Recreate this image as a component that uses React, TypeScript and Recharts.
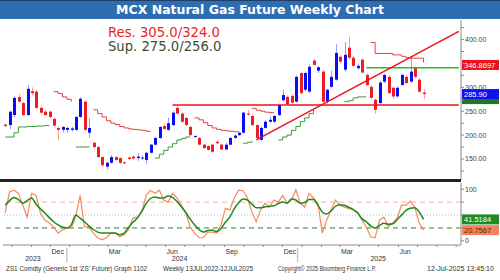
import { ComposedChart, Bar, Line, XAxis, YAxis, ReferenceLine } from "recharts";

// weekly candles, MCX natural gas (Sep 2023 .. Jul 2025)
const opens = [222, 221, 242, 280, 267, 242, 292, 291, 257, 249, 249, 234, 215, 211, 211, 211, 211, 238, 270, 205, 184, 175, 154, 134, 142, 154, 152, 143, 153, 155, 152, 152, 148, 163, 180, 194, 219, 211, 221, 257, 245, 236, 217, 196, 194, 180, 177, 180, 186, 180, 170, 180, 194, 200, 205, 245, 240, 221, 190, 215, 228, 228, 242, 273, 280, 282, 270, 330, 295, 291, 356, 335, 333, 270, 301, 316, 364, 337, 383, 362, 340, 358, 326, 301, 274, 267, 312, 322, 299, 281, 305, 322, 312, 341, 316, 289];
const highs = [224, 251, 281, 286, 270, 305, 300, 294, 262, 252, 251, 236, 218, 219, 218, 217, 240, 280, 272, 236, 186, 177, 156, 145, 158, 156, 154, 145, 155, 157, 162, 157, 165, 182, 196, 219, 224, 236, 250, 262, 248, 238, 219, 200, 196, 182, 179, 182, 190, 182, 184, 196, 201, 207, 249, 252, 244, 223, 217, 231, 240, 242, 266, 295, 283, 286, 325, 333, 333, 348, 360, 345, 336, 297, 335, 390, 367, 395, 406, 366, 350, 361, 329, 304, 277, 313, 329, 325, 302, 302, 328, 325, 364, 344, 319, 296];
const lows = [216, 212, 238, 268, 240, 240, 284, 255, 244, 240, 236, 218, 190, 205, 205, 207, 209, 236, 208, 194, 172, 152, 133, 128, 140, 146, 140, 139, 148, 149, 146, 148, 140, 161, 178, 192, 211, 209, 219, 243, 226, 219, 198, 194, 178, 171, 167, 163, 181, 168, 168, 178, 192, 198, 203, 240, 219, 192, 188, 213, 226, 226, 240, 271, 263, 266, 268, 285, 292, 289, 345, 330, 268, 266, 299, 314, 350, 333, 358, 343, 337, 329, 302, 276, 245, 265, 309, 286, 276, 279, 303, 307, 310, 319, 289, 275];
const closes = [219, 249, 278, 270, 242, 297, 288, 257, 247, 242, 238, 220, 211, 217, 215, 214, 238, 276, 211, 215, 175, 154, 137, 142, 154, 148, 142, 141, 150, 151, 155, 153, 163, 180, 194, 217, 213, 225, 247, 245, 228, 221, 200, 198, 180, 173, 169, 165, 183, 170, 180, 194, 199, 205, 247, 243, 221, 194, 215, 228, 232, 240, 263, 284, 265, 268, 322, 288, 330, 343, 347, 342, 270, 295, 322, 372, 354, 368, 362, 345, 345, 331, 305, 278, 253, 310, 326, 288, 281, 299, 326, 309, 333, 322, 291, 285.9];

// stepped trailing bands drawn by the terminal (start week, levels)
const upperStops = [
  { from: 11, v: [291, 287, 280, 275, 270] },
  { from: 20, v: [253, 245, 238, 230, 225, 222, 218, 215, 213, 212, 211, 210, 208, 207] },
  { from: 43, v: [236, 232, 226, 220, 215, 212, 210, 209, 208, 207, 207] },
  { from: 56, v: [256, 252, 250, 248, 247, 246] },
  { from: 83, v: [394, 371, 371, 371, 371, 368, 368, 365, 362, 361, 361, 361, 352] },
];
const lowerStops = [
  { from: 0, v: [196, 196, 205, 217, 217, 218, 218, 219, 219, 220, 220] },
  { from: 16, v: [175, 175, 175, 176] },
  { from: 34, v: [152, 160, 168, 175, 182, 190, 193, 196, 196] },
  { from: 54, v: [183, 185, 188] },
  { from: 62, v: [190, 196, 200, 210, 218, 228, 236, 245, 253] },
  { from: 77, v: [270, 272, 278, 280, 280, 280] },
];

// lower study
const rsi = [54, 95, 98, 92, 69, 46, 92, 88, 54, 40, 35, 27, 15, 21, 25, 25, 46, 88, 27, 27, 15, 6, 2, 6, 15, 15, 8, 12, 21, 44, 46, 56, 88, 98, 92, 98, 79, 75, 92, 83, 69, 54, 27, 15, 6, 6, 17, 17, 15, 31, 63, 60, 83, 98, 97, 83, 56, 37, 60, 73, 65, 79, 75, 88, 73, 79, 99, 73, 65, 92, 83, 73, 15, 40, 60, 79, 69, 65, 63, 60, 56, 40, 27, 8, 6, 40, 46, 27, 35, 44, 69, 69, 77, 65, 35, 20.7567];
const rsiSignal = [69, 78, 84, 80, 73, 78, 83, 71, 62, 54, 45, 37, 31, 27, 25, 31, 50, 44, 37, 29, 22, 17, 15, 15, 15, 15, 12, 15, 26, 36, 44, 57, 72, 82, 85, 83, 83, 87, 84, 76, 66, 55, 42, 31, 22, 17, 20, 21, 18, 24, 36, 46, 62, 74, 81, 79, 71, 64, 64, 66, 67, 68, 72, 75, 73, 81, 79, 73, 74, 80, 80, 69, 56, 52, 58, 67, 70, 69, 65, 61, 54, 43, 37, 29, 25, 30, 34, 32, 33, 41, 50, 59, 63, 64, 56, 41.5184];

// drawn levels
const resistanceLevel = 341;
const supportLevel = 263;
const trendLine = [{ x: 57, y: 190 }, { x: 103, y: 417 }];
const lastPrice = 285.9;
const bandPrice = 346.8697;

const padWeeks = 8;
const priceTicks = [125, 150, 175, 200, 225, 250, 275, 300, 325, 350, 375, 400, 425];
const priceLabels = [150, 200, 250, 300, 400];
const monthTicks = [1.5, 6, 10.3, 14.6, 19, 23.3, 27.6, 32, 36.4, 40.8, 45.2, 49.8, 54.2, 58.6, 63, 67.4, 71.8, 76, 80.4, 84.8, 89.3, 93.6, 98, 102.4];
const monthLabels: Record<string, string> = { "10.3": "Dec", "23.3": "Mar", "36.4": "Jun", "49.8": "Sep", "63": "Dec", "76": "Mar", "89.3": "Jun" };
const yearTicks = [6.3, 39.6, 84.7];
const yearLabels = ["2023", "2024", "2025"];
const yearBreaks = [14, 66.4];

// footer strings and the width each one takes in the reference
const footer = [
  { text: "ZS1 Comdty (Generic 1st 'ZS' Future) Graph 1102", x: 6, w: 141 },
  { text: "Weekly 13JUL2022-12JUL2025", x: 163, w: 90 },
  { text: "Copyright© 2025 Bloomberg Finance L.P.", x: 278, w: 98 },
  { text: "12-Jul-2025 13:45:10", x: 427, w: 67 },
];

const stopAt = (segs: { from: number; v: number[] }[], i: number) => {
  for (const s of segs) if (i >= s.from && i < s.from + s.v.length) return s.v[i - s.from];
  return null;
};

const rows = Array.from({ length: opens.length + padWeeks }, (_, i) => ({
  i,
  o: opens[i],
  h: highs[i],
  l: lows[i],
  c: closes[i],
  up: stopAt(upperStops, i),
  dn: stopAt(lowerStops, i),
  rsi: rsi[i] ?? null,
  sig: rsiSignal[i] ?? null,
}));

const W = 500;
const AXIS_W = 39;
const FONT = "'Liberation Sans', Arial, sans-serif";

const Candle = (props: any) => {
  const { x, y, width, height, payload } = props;
  if (!payload || payload.o == null || !height) return null;
  const { o, h, l, c } = payload;
  const rise = c >= o;
  const ppu = height / (h - l || 1);
  const cx = Math.round(x + width / 2) + 0.5;
  const top = y + (h - Math.max(o, c)) * ppu;
  const bh = Math.max(1, Math.abs(o - c) * ppu);
  return (
    <g>
      <line x1={cx} x2={cx} y1={y} y2={y + height} stroke={rise ? "#9a9aff" : "#ff9a9a"} strokeWidth={1} />
      <rect x={cx - 1.5} y={top} width={3} height={bh} fill={rise ? "#0c0cf2" : "#ec1c24"} />
    </g>
  );
};

const PriceTick = ({ x, y, payload }: any) => {
  if (!priceLabels.includes(payload.value)) return null;
  return (
    <text x={x} y={y} dy={2.5} fontSize={7} fill="#444" fontFamily={FONT} textAnchor="start">
      {payload.value.toFixed(2)}
    </text>
  );
};

const StudyTick = ({ x, y, payload }: any) => {
  if (payload.value !== 0 && payload.value !== 100) return null;
  return (
    <text x={x} y={y} dy={2.5} fontSize={7} fill="#444" fontFamily={FONT} textAnchor="start">
      {payload.value}
    </text>
  );
};

const MonthTick = ({ x, y, payload }: any) => {
  const lbl = monthLabels[String(payload.value)];
  if (!lbl) return null;
  return (
    <text x={x + 1} y={y + 4.5} fontSize={7} fill="#333" fontFamily={FONT} textAnchor="start">
      {lbl}
    </text>
  );
};

const YearTick = ({ x, y, payload }: any) => {
  const k = yearTicks.indexOf(payload.value);
  if (k < 0) {
    return <line x1={x} x2={x} y1={y - 5} y2={y + 9} stroke="#c8c8c8" strokeWidth={1.5} />;
  }
  return (
    <text x={x} y={y + 7.5} fontSize={7} fill="#333" fontFamily={FONT} textAnchor="middle">
      {yearLabels[k]}
    </text>
  );
};

const valueBox = (text: string, bg: string, fg: string) => (props: any) => {
  const vb = props.viewBox;
  if (!vb) return null;
  const x = vb.x + vb.width + 1;
  const y = vb.y;
  return (
    <g>
      <rect x={x} y={y - 5} width={37} height={10} fill={bg} />
      {text && (
        <text x={x + 2} y={y + 2.8} fontSize={7.5} fill={fg} fontFamily={FONT}>
          {text}
        </text>
      )}
    </g>
  );
};

export default function App() {
  return (
    <div style={{ position: "absolute", left: 0, top: 0, width: W, height: 280, background: "#fff", overflow: "hidden" }}>
      <div
        style={{
          position: "absolute", left: 0, top: 0, width: W, height: 18,
          background: "#2f6db3", borderTop: "1px solid #1e3e66",
          color: "#fff", fontFamily: "'DejaVu Sans', Verdana, sans-serif", fontWeight: 700,
          fontSize: 12.5, lineHeight: "18px", textAlign: "center",
        }}
      >
        MCX Natural Gas Future Weekly Chart
      </div>

      <div style={{ position: "absolute", left: 0, top: 20 }}>
        <ComposedChart width={W} height={160} data={rows} margin={{ top: 0, right: 0, bottom: 0, left: 3 }} barCategoryGap={0}>
          <XAxis dataKey="i" hide />
          <YAxis
            orientation="right" width={AXIS_W} domain={[106, 441]} allowDataOverflow
            ticks={priceTicks} interval={0} tick={<PriceTick />} tickSize={3} tickMargin={1}
            stroke="#8a8a8a"
          />
          <Line dataKey="up" type="stepAfter" stroke="#e2413c" strokeWidth={1} dot={false} isAnimationActive={false} />
          <Line dataKey="dn" type="stepAfter" stroke="#3c9a3c" strokeWidth={1} dot={false} isAnimationActive={false} />
          <Bar
            dataKey={(d: any) => (d.o == null ? null : [d.l, d.h])}
            shape={<Candle />} barSize={3} isAnimationActive={false}
          />
          <ReferenceLine segment={[{ x: 38, y: supportLevel }, { x: 103, y: supportLevel }]} stroke="#e8141c" strokeWidth={1.5} />
          <ReferenceLine segment={[{ x: 82, y: resistanceLevel }, { x: 103, y: resistanceLevel }]} stroke="#22c422" strokeWidth={1.5} />
          <ReferenceLine segment={trendLine} stroke="#e8141c" strokeWidth={1.5} ifOverflow="hidden" />
          <ReferenceLine y={bandPrice} stroke="none" label={{ content: valueBox("346.8697", "#e8141c", "#fff") }} />
          <ReferenceLine y={lastPrice - 10.5} stroke="none" label={{ content: valueBox("", "#1d7a22", "#fff") }} />
          <ReferenceLine y={lastPrice} stroke="none" label={{ content: valueBox("285.90", "#1010ee", "#fff") }} />
        </ComposedChart>
      </div>

      <div style={{ position: "absolute", left: 0, top: 179, width: 461, height: 3, background: "#222" }} />

      <div style={{ position: "absolute", left: 0, top: 183 }}>
        <ComposedChart width={W} height={84} data={rows} margin={{ top: 0, right: 0, bottom: 0, left: 3 }}>
          <XAxis
            xAxisId="m" type="number" dataKey="i" domain={[-0.5, 103.5]} allowDataOverflow
            ticks={monthTicks} interval={0} tick={<MonthTick />} tickSize={2} height={8} stroke="#8a8a8a"
          />
          <XAxis
            xAxisId="y" type="number" dataKey="i" domain={[-0.5, 103.5]} allowDataOverflow
            ticks={[...yearTicks, ...yearBreaks]} interval={0} tick={<YearTick />}
            axisLine={false} tickLine={false} tickSize={0} tickMargin={0} height={14}
          />
          <YAxis
            orientation="right" width={AXIS_W} domain={[-8, 112]} allowDataOverflow
            ticks={[0, 25, 50, 75, 100]} interval={0} tick={<StudyTick />} tickSize={3} tickMargin={1}
            stroke="#8a8a8a"
          />
          <ReferenceLine xAxisId="m" y={75} stroke="#f6b39c" strokeDasharray="5 4" />
          <ReferenceLine xAxisId="m" y={50} stroke="#9cc6df" strokeDasharray="1 2" />
          <ReferenceLine xAxisId="m" y={25} stroke="#2a8a2a" strokeDasharray="5 4" />
          <Line xAxisId="m" dataKey="rsi" type="linear" stroke="#f7895e" strokeWidth={1.2} dot={false} isAnimationActive={false} />
          <Line xAxisId="m" dataKey="sig" type="monotone" stroke="#1c8a1c" strokeWidth={1.5} dot={false} isAnimationActive={false} />
          <ReferenceLine xAxisId="m" y={41.5184} stroke="none" label={{ content: valueBox("41.5184", "#1d8a22", "#fff") }} />
          <ReferenceLine xAxisId="m" y={20.7567} stroke="none" label={{ content: valueBox("20.7567", "#f4845f", "#6a1a00") }} />
        </ComposedChart>
      </div>

      <svg style={{ position: "absolute", left: 0, top: 262 }} width={W} height={12}>
        {footer.map((f) => (
          <text key={f.text} x={f.x} y={8.5} fontSize={7} fill="#333" fontFamily={FONT} textLength={f.w} lengthAdjust="spacingAndGlyphs">
            {f.text}
          </text>
        ))}
      </svg>

      <div style={{ position: "absolute", left: 108, top: 25.5, fontFamily: "'DejaVu Sans', Verdana, sans-serif", fontSize: 13.2, color: "#e5252a", lineHeight: "13px" }}>
        Res. 305.0/324.0
      </div>
      <div style={{ position: "absolute", left: 108, top: 39.5, fontFamily: "'DejaVu Sans', Verdana, sans-serif", fontSize: 13.2, color: "#3d4d33", lineHeight: "13px" }}>
        Sup. 275.0/256.0
      </div>
    </div>
  );
}
